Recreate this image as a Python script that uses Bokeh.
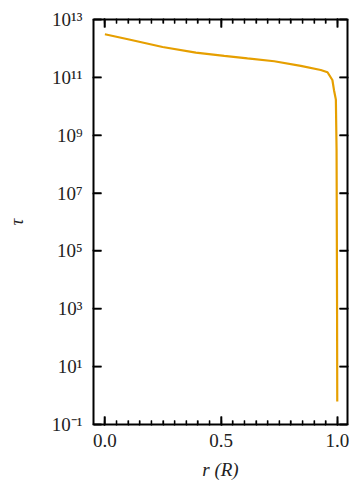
import math
from bokeh.plotting import figure
from bokeh.models import (Range1d, FixedTicker, LinearAxis, LogAxis,
                          CustomJSTickFormatter, PrintfTickFormatter)
from bokeh.embed import file_html
from bokeh.resources import INLINE

# data
r_vals = [0.0, 0.104, 0.248, 0.391, 0.513, 0.613, 0.728, 0.842, 0.928, 0.957,
          0.978, 0.985, 0.993, 0.996, 0.998, 0.999]
tau_vals = [3.1e12, 2.04e12, 1.12e12, 7.2e11, 5.5e11, 4.5e11, 3.6e11, 2.5e11,
            1.8e11, 1.5e11, 8.1e10, 3.6e10, 1.7e10, 3.2e8, 2.3e3, 0.62]
x_major = [0.0, 0.5, 1.0]
x_minor = [round(0.05 * i, 2) for i in range(0, 21)]
y_major = [1e-1, 1e1, 1e3, 1e5, 1e7, 1e9, 1e11, 1e13]

X_LO, X_HI = -0.049, 1.043
Y_LO, Y_HI = 1e-1, 1e13
FRAME_W, FRAME_H = 254, 408  # frame size in px, used for tick lengths

FONT = "Liberation Serif"

p = figure(width=349, height=482, y_axis_type="log",
           x_range=Range1d(X_LO, X_HI), y_range=Range1d(Y_LO, Y_HI),
           output_backend="svg", toolbar_location=None,
           min_border_left=93, min_border_right=2, min_border_top=19,
           min_border_bottom=55)
p.grid.visible = False
p.outline_line_color = None
p.background_fill_color = "white"
p.border_fill_color = None

p.line(r_vals, tau_vals, line_color="#E69F00", line_width=2.2)

# inward ticks as segments inside the frame, drawn on top
dec_per_px = (math.log10(Y_HI) - math.log10(Y_LO)) / FRAME_H
x_per_px = (X_HI - X_LO) / FRAME_W
f_maj = 10 ** (8 * dec_per_px)
f_min = 10 ** (4 * dec_per_px)
x_min_only = [v for v in x_minor if v not in x_major]
nM, nm = len(x_major), len(x_min_only)
seg = dict(line_color="black", level="overlay")
p.segment(x_major, [Y_LO] * nM, x_major, [Y_LO * f_maj] * nM, line_width=1.6, **seg)
p.segment(x_major, [Y_HI] * nM, x_major, [Y_HI / f_maj] * nM, line_width=1.6, **seg)
p.segment(x_min_only, [Y_LO] * nm, x_min_only, [Y_LO * f_min] * nm, line_width=1.3, **seg)
p.segment(x_min_only, [Y_HI] * nm, x_min_only, [Y_HI / f_min] * nm, line_width=1.3, **seg)
nY = len(y_major)
p.segment([X_LO] * nY, y_major, [X_LO + 8 * x_per_px] * nY, y_major, line_width=1.6, **seg)
p.segment([X_HI] * nY, y_major, [X_HI - 8 * x_per_px] * nY, y_major, line_width=1.6, **seg)

sup_js = """
const sup = {'-':'\u207b','0':'\u2070','1':'\u00b9','2':'\u00b2','3':'\u00b3','4':'\u2074',
             '5':'\u2075','6':'\u2076','7':'\u2077','8':'\u2078','9':'\u2079'};
const e = Math.round(Math.log10(tick));
return '10' + String(e).split('').map(c => sup[c]).join('');
"""

def style(ax, labels=True):
    ax.axis_line_width = 2
    ax.axis_line_color = "black"
    ax.major_tick_line_color = "black"
    ax.minor_tick_line_color = "black"
    ax.major_tick_line_width = 1.6
    ax.minor_tick_line_width = 1.3
    ax.major_tick_in = 8
    ax.major_tick_out = 1
    ax.minor_tick_in = 4
    ax.minor_tick_out = 1
    ax.major_label_text_font = FONT
    ax.major_label_text_font_size = "19px"
    ax.major_label_text_color = "#222222"
    ax.axis_label_text_font = FONT
    ax.axis_label_text_font_size = "19px"
    ax.axis_label_text_font_style = "italic"
    ax.axis_label_text_color = "#222222"
    if not labels:
        ax.major_label_text_font_size = "0px"
        ax.major_label_text_color = None
        ax.major_label_standoff = 0

xa = p.xaxis[0]
xa.ticker = FixedTicker(ticks=x_major, minor_ticks=x_minor)
xa.formatter = PrintfTickFormatter(format="%.1f")
xa.axis_label = "r (R)"
xa.major_label_standoff = 8
xa.axis_label_standoff = 9
style(xa)

ya = p.yaxis[0]
ya.ticker = FixedTicker(ticks=y_major, minor_ticks=[])
ya.formatter = CustomJSTickFormatter(code=sup_js)
ya.axis_label = "\u03c4"
ya.major_label_standoff = 10
ya.axis_label_standoff = 22
style(ya)

top = LinearAxis(ticker=FixedTicker(ticks=x_major, minor_ticks=x_minor))
style(top, labels=False)
p.add_layout(top, "above")

right = LogAxis(ticker=FixedTicker(ticks=y_major, minor_ticks=[]))
style(right, labels=False)
p.add_layout(right, "right")

open("out.html", "w").write(file_html(p, INLINE))
